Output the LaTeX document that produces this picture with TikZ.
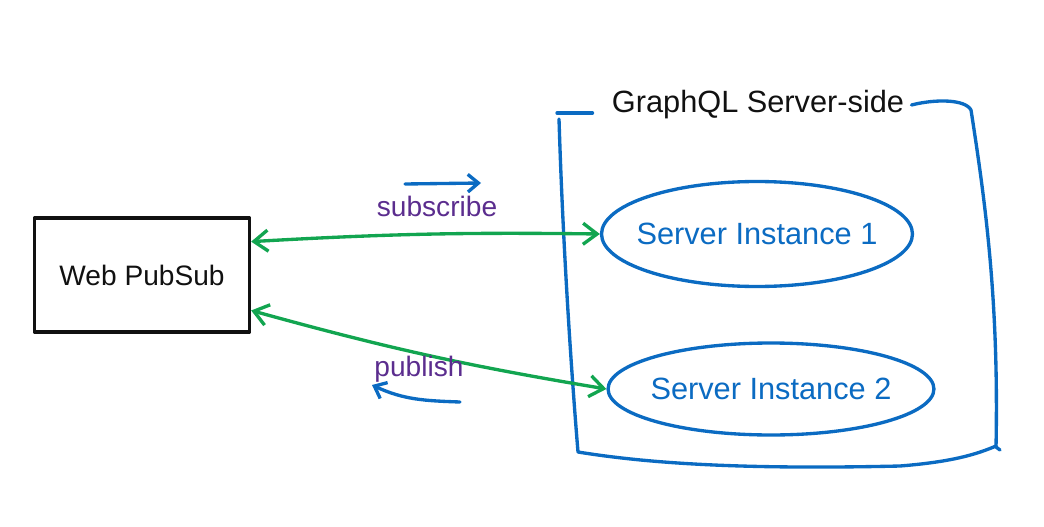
\documentclass[tikz,border=0pt]{standalone}
\usepackage{fontspec}
\setmainfont{Liberation Sans}
\usetikzlibrary{arrows.meta,shapes.geometric,positioning}
\definecolor{skblue}{HTML}{0B6BC2}
\definecolor{skgreen}{HTML}{12A550}
\definecolor{skpurple}{HTML}{5B2D8E}
\definecolor{skink}{HTML}{111111}

\begin{document}
\begin{tikzpicture}[x=0.02cm,y=-0.02cm,
 pen/.style={line width=1.9pt,line cap=round,line join=round},
 hand/.style={font=\fontsize{16}{19}\selectfont},
 big/.style={font=\fontsize{17.5}{21}\selectfont},
 box/.style={pen,draw=skink,minimum width=4.3cm,minimum height=2.28cm,hand,text=skink},
 inst/.style={pen,draw=skblue,ellipse,inner ysep=0pt,big,text=skblue},
 link/.style={pen,draw=skgreen,{Straight Barb[length=8pt,width=12pt]}-{Straight Barb[length=8pt,width=12pt]}},
 hint/.style={pen,draw=skblue,-{Straight Barb[length=6pt,width=10pt]}},
 verb/.style={hand,text=skpurple}]
% Canvas 1044 x 527 px, 1 px = 0.02 cm, y grows downwards
\useasboundingbox (0,0) rectangle (1044,527);

% ── Client side ─────────────────────────────────────────────────
\node[box] (pubsub) at (142,275) {Web PubSub};

% ── Server-side group ───────────────────────────────────────────
\node[big,text=skink,inner sep=4pt] (grp) at (758,105) {GraphQL Server-side};
\draw[pen,draw=skblue] (grp.west) ++(-12,8) -- (557,113);
\draw[pen,draw=skblue] (559,119) .. controls (563,250) and (572,380) .. (578,452)
 .. controls (640,462) and (730,470) .. (900,466)
 .. controls (950,462) and (975,455) .. (996,446);
\draw[pen,draw=skblue] (grp.east) .. controls (935,99) and (965,99) .. (971,110)
 .. controls (985,200) and (999,300) .. (996,447) -- (1000,450);

\node[inst,inner xsep=-6pt,minimum height=2.1cm] (inst1) at (757,234)
 {Server Instance 1};
\node[inst,inner xsep=-3pt,minimum height=1.84cm] (inst2) at (771,389)
 {Server Instance 2};

% ── Links ───────────────────────────────────────────────────────
\draw[link] (pubsub.17) to[bend left=2] (inst1.west);
\draw[link] (pubsub.-18) to[bend right=3] (inst2.west);

% ── Direction hints ─────────────────────────────────────────────
\node[verb] (sub) at (437,206) {subscribe};
\coordinate (subtail) at (405,184);
\coordinate (subhead) at (481,183);
\draw[hint] (subtail) -- (subhead);

\node[verb] (pub) at (419,369) {publish};
\coordinate (pubtail) at (460,402);
\coordinate (pubhead) at (372,385);
\draw[hint] (pubtail) to[out=178,in=-25] (pubhead);
\end{tikzpicture}
\end{document}
